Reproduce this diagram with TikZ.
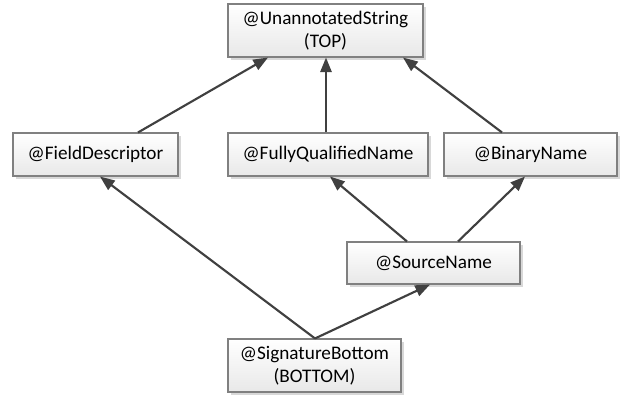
\documentclass[tikz,border=0pt]{standalone}
\usepackage{fontspec}
\setmainfont{Carlito}
\usetikzlibrary{arrows.meta,shadows,calc}
\tikzset{
  box/.style={draw=black!50, line width=0.8pt, top color=white, bottom color=black!9,
    drop shadow={shadow xshift=2.5pt,shadow yshift=-2.5pt,fill=black!30,opacity=0.5},
    inner sep=0pt, align=center, font=\fontsize{14.4}{17.5}\selectfont},
  edge/.style={draw=black!75, line width=1.6pt, -{Triangle[length=11pt,width=8.5pt]}}
}
\begin{document}
\begin{tikzpicture}[x=0.75pt,y=-0.75pt]
\useasboundingbox (0,0) rectangle (621,397);
\node[box, minimum width={195*0.75pt}, minimum height={53*0.75pt}] (TOP) at (325.5,30.5) {@UnannotatedString\\(TOP)};
\node[box, minimum width={165*0.75pt}, minimum height={43*0.75pt}] (FD) at (95.5,154.5) {@FieldDescriptor};
\node[box, minimum width={200*0.75pt}, minimum height={43*0.75pt}] (FQN) at (328,154.5) {@FullyQualifiedName};
\node[box, minimum width={173*0.75pt}, minimum height={43*0.75pt}] (BN) at (530.5,154.5) {@BinaryName};
\node[box, minimum width={173*0.75pt}, minimum height={42*0.75pt}] (SN) at (433.5,263) {@SourceName};
\node[box, minimum width={173*0.75pt}, minimum height={53*0.75pt}] (SB) at (314.5,365.5) {@SignatureBottom\\(BOTTOM)};

\draw[edge] ($(FD.north)+(42.5,0)$) -- ($(TOP.south)+(-57.5,0)$);
\draw[edge] ($(FQN.north)+(-2,0)$) -- ($(TOP.south)+(0.5,0)$);
\draw[edge] ($(BN.north)+(-28.5,0)$) -- ($(TOP.south)+(77.5,0)$);
\draw[edge] ($(SN.north)+(-26.5,0)$) -- ($(FQN.south)+(2,0)$);
\draw[edge] ($(SN.north)+(24.5,0)$) -- ($(BN.south)+(-5.5,0)$);
\draw[edge] ($(SB.north)+(0.5,0)$) -- ($(FD.south)+(4.5,0)$);
\draw[edge] ($(SB.north)+(0.5,0)$) -- ($(SN.south)+(-3.5,0)$);
\end{tikzpicture}
\end{document}
